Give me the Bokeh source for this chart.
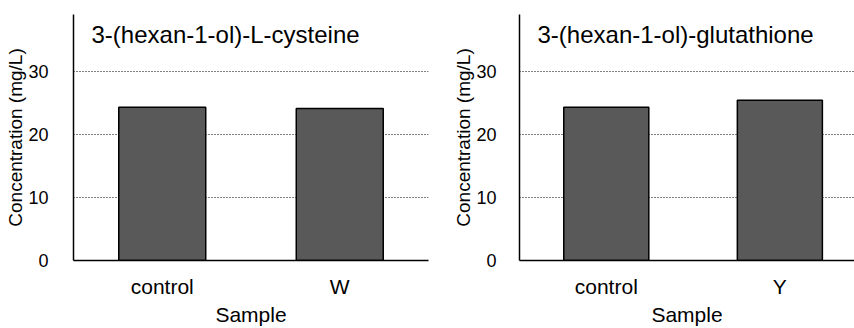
from bokeh.plotting import figure
from bokeh.layouts import row
from bokeh.models import Range1d, FixedTicker, Label, ColumnDataSource
from bokeh.embed import file_html
from bokeh.resources import INLINE

FONT = "Liberation Sans"

titles = ["3-(hexan-1-ol)-L-cysteine", "3-(hexan-1-ol)-glutathione"]
cats_left = ["control", "W"]
vals_left = [24.3, 24.1]
cats_right = ["control", "Y"]
vals_right = [24.3, 25.4]
y_ticks = [0, 10, 20, 30]
y_title = "Concentration (mg/L)"
x_title = "Sample"


def panel(title, cats, vals, width, border_left, border_right, x_end, tick_standoff):
    xs = [i + 0.5 for i in range(len(cats))]
    p = figure(width=width, height=328, output_backend="svg", toolbar_location=None,
               x_range=Range1d(0, x_end), y_range=Range1d(0, 39),
               min_border_left=border_left, min_border_right=border_right,
               min_border_top=14, min_border_bottom=68)
    p.outline_line_color = None
    src = ColumnDataSource(dict(x=xs, top=vals))
    p.vbar(x="x", top="top", width=0.49, source=src, fill_color="#595959",
           line_color="black", line_width=1.5)

    p.xgrid.visible = False
    p.ygrid.ticker = FixedTicker(ticks=y_ticks)
    p.ygrid.grid_line_color = "black"
    p.ygrid.grid_line_dash = "1 2"
    p.ygrid.grid_line_width = 1

    ya = p.yaxis[0]
    ya.ticker = FixedTicker(ticks=y_ticks)
    ya.axis_line_color = "black"
    ya.axis_line_width = 1.5
    ya.major_tick_line_color = None
    ya.minor_tick_line_color = None
    ya.major_label_text_font = FONT
    ya.major_label_text_font_size = "18px"
    ya.major_label_text_color = "black"
    ya.major_label_standoff = tick_standoff
    ya.axis_label = y_title
    ya.axis_label_text_font = FONT
    ya.axis_label_text_font_style = "normal"
    ya.axis_label_text_font_size = "19px"
    ya.axis_label_text_color = "black"
    ya.axis_label_standoff = -1

    xa = p.xaxis[0]
    xa.ticker = FixedTicker(ticks=xs)
    xa.major_label_overrides = {x: c for x, c in zip(xs, cats)}
    xa.axis_line_color = "black"
    xa.axis_line_width = 1.5
    xa.major_tick_line_color = None
    xa.minor_tick_line_color = None
    xa.major_label_text_font = FONT
    xa.major_label_text_font_size = "21px"
    xa.major_label_text_color = "black"
    xa.major_label_standoff = 8
    xa.axis_label = x_title
    xa.axis_label_text_font = FONT
    xa.axis_label_text_font_style = "normal"
    xa.axis_label_text_font_size = "21px"
    xa.axis_label_text_color = "black"
    xa.axis_label_standoff = 2

    p.add_layout(Label(x=x_end * 18 / (width - border_left - border_right), y=38.0,
                       text=title, text_font=FONT, text_font_size="24px",
                       text_color="black", text_baseline="top", text_align="left"))
    return p


left = panel(titles[0], cats_left, vals_left, 430, 73, 2, 2.0, 19)
right = panel(titles[1], cats_right, vals_right, 424, 89, 0, 1.93, 17)

layout = row(left, right)
open("out.html", "w").write(file_html(layout, INLINE))
